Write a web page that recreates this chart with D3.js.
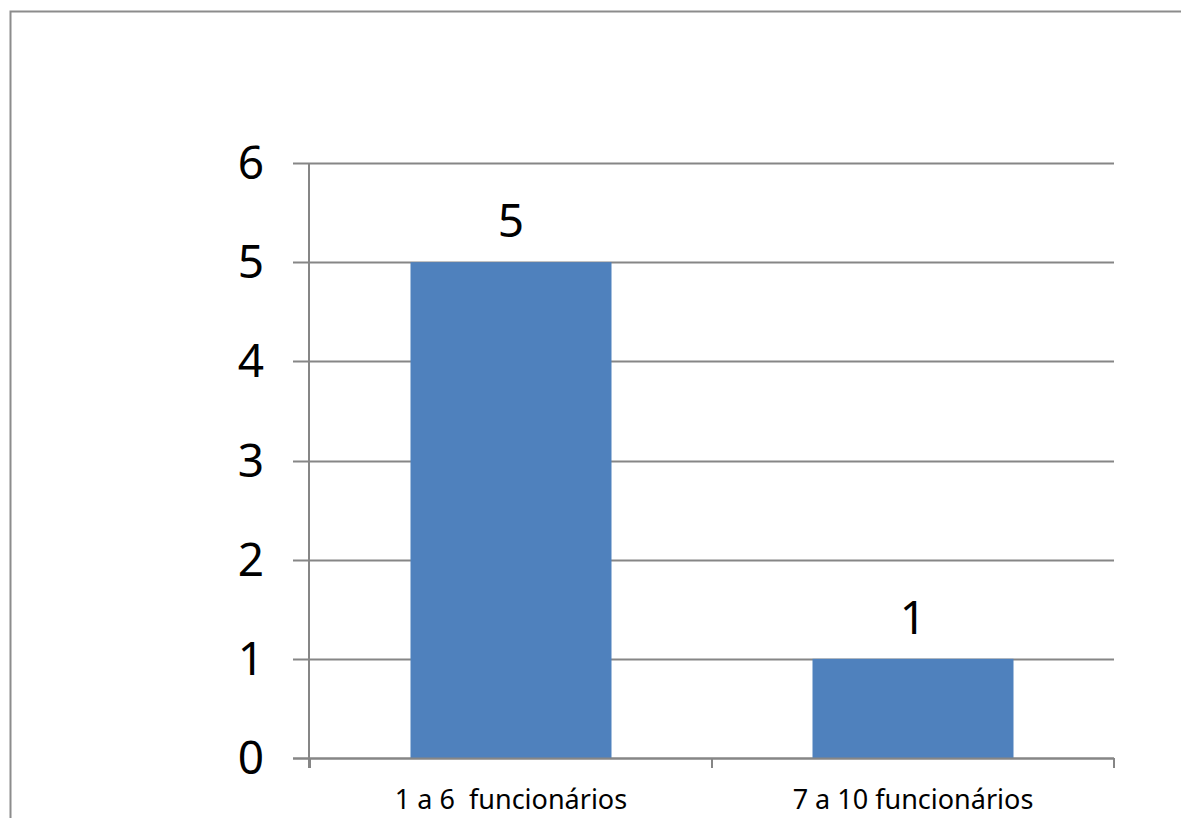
<!DOCTYPE html>
<html>
<head>
<meta charset="utf-8">
<script src="https://cdn.jsdelivr.net/npm/d3@7"></script>
<style>
  html, body { margin: 0; padding: 0; background: #fff; }
  svg { display: block; }
  text { font-family: "Noto Sans", "Open Sans", sans-serif; fill: #000; }
</style>
</head>
<body>
<script>
// Number of companies by staff size
const categories = ["1 a 6  funcionários", "7 a 10 funcionários"];
const values = [5, 1];
const yTicks = [0, 1, 2, 3, 4, 5, 6];

const width = 1181, height = 818;
const margin = { left: 310, right: 1181 - 1114, top: 163, bottom: 818 - 758 };

const svg = d3.select("body").append("svg")
  .attr("width", width).attr("height", height);

// Outer chart frame (runs off the right and bottom edges)
svg.append("path")
  .attr("d", "M10.5,830 V11.5 H1200")
  .attr("fill", "none")
  .attr("stroke", "#8c8c8c")
  .attr("stroke-width", 2);

const x = d3.scaleBand()
  .domain(categories)
  .range([margin.left, width - margin.right])
  .paddingInner(0.5)
  .paddingOuter(0.25);

const y = d3.scaleLinear()
  .domain([0, 6])
  .range([height - margin.bottom, margin.top]);

const gridColor = "#868686";

// Horizontal gridlines with left tick stubs
svg.append("g")
  .selectAll("line")
  .data(yTicks)
  .join("line")
  .attr("x1", margin.left - 17)
  .attr("x2", width - margin.right)
  .attr("y1", d => Math.round(y(d)) + 0.5)
  .attr("y2", d => Math.round(y(d)) + 0.5)
  .attr("stroke", gridColor)
  .attr("stroke-width", 2);

// Y-axis labels
svg.append("g")
  .selectAll("text")
  .data(yTicks)
  .join("text")
  .attr("x", margin.left - 46)
  .attr("y", d => y(d))
  .attr("dy", "0.35em")
  .attr("text-anchor", "end")
  .style("font-size", "46px")
  .text(d => d);

// Bars
svg.append("g")
  .selectAll("rect")
  .data(values)
  .join("rect")
  .attr("x", (d, i) => x(categories[i]))
  .attr("width", x.bandwidth())
  .attr("y", d => y(d))
  .attr("height", d => y(0) - y(d))
  .attr("fill", "#4f81bd");

// Redraw baseline over bars
svg.append("line")
  .attr("x1", margin.left - 17)
  .attr("x2", width - margin.right)
  .attr("y1", Math.round(y(0)) + 0.5)
  .attr("y2", Math.round(y(0)) + 0.5)
  .attr("stroke", gridColor)
  .attr("stroke-width", 2);

// Vertical axis line
svg.append("line")
  .attr("x1", margin.left - 1)
  .attr("x2", margin.left - 1)
  .attr("y1", y(6))
  .attr("y2", y(0) + 10)
  .attr("stroke", gridColor)
  .attr("stroke-width", 2);

// Category boundary ticks on the x axis
const boundaries = [0, 1, 2].map(i => margin.left + (x.range()[1] - margin.left) * i / 2);
svg.append("g")
  .selectAll("line")
  .data(boundaries)
  .join("line")
  .attr("x1", d => d)
  .attr("x2", d => d)
  .attr("y1", y(0))
  .attr("y2", y(0) + 10)
  .attr("stroke", gridColor)
  .attr("stroke-width", 2);

// Value labels above bars
svg.append("g")
  .selectAll("text")
  .data(values)
  .join("text")
  .attr("x", (d, i) => x(categories[i]) + x.bandwidth() / 2)
  .attr("y", d => y(d) - 25)
  .attr("text-anchor", "middle")
  .style("font-size", "46px")
  .text(d => d);

// Category labels
svg.append("g")
  .selectAll("text")
  .data(categories)
  .join("text")
  .attr("x", d => x(d) + x.bandwidth() / 2)
  .attr("y", 809)
  .attr("text-anchor", "middle")
  .style("font-size", "27px")
  .style("white-space", "pre")
  .attr("xml:space", "preserve")
  .text(d => d);
</script>
</body>
</html>
